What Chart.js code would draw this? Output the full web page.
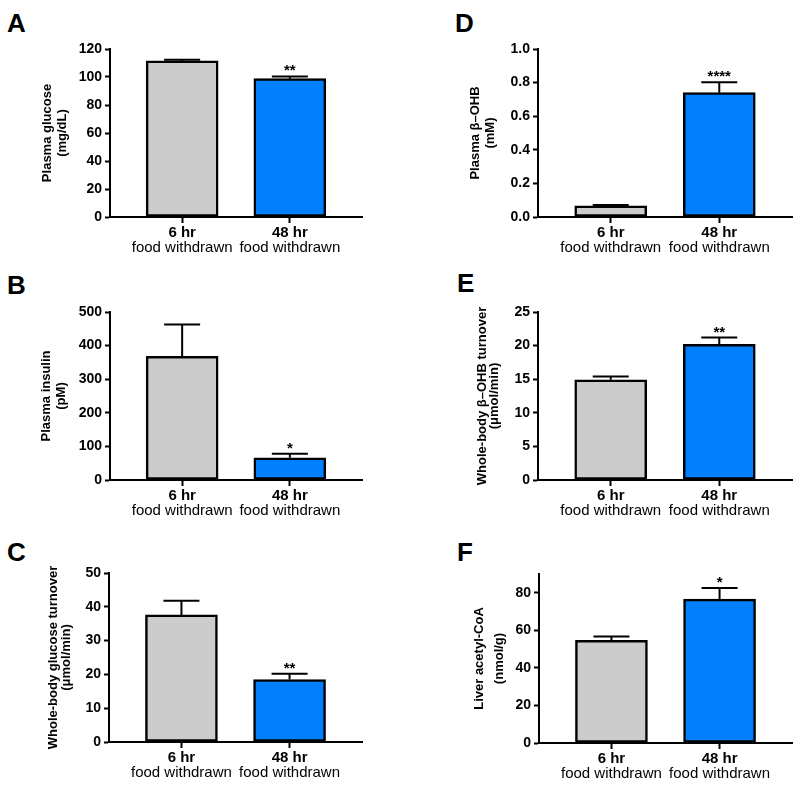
<!DOCTYPE html>
<html>
<head>
<meta charset="utf-8">
<script src="https://cdn.jsdelivr.net/npm/chart.js@4.4.0/dist/chart.umd.min.js"></script>
<style>
body { margin: 0; background: #fff; }
#wrap { position: relative; width: 800px; height: 787px; overflow: hidden; }
#wrap canvas { position: absolute; }
.tag { position: absolute; font: bold 26px "Liberation Sans", Arial, sans-serif; line-height: 1; color: #000; }
</style>
</head>
<body>
<div id="wrap">
  <div class="tag" style="left:7px;top:10px">A</div>
  <div class="tag" style="left:7px;top:272px">B</div>
  <div class="tag" style="left:7px;top:539px">C</div>
  <div class="tag" style="left:455px;top:10px">D</div>
  <div class="tag" style="left:457px;top:270px">E</div>
  <div class="tag" style="left:457px;top:539px">F</div>
</div>
<script>
var categories = ['6 hr', '48 hr'];
var subLabel = 'food withdrawn';
var colors = ['#cccccc', '#0080ff'];

// mean and SEM for each group (6 hr, 48 hr)
var glucose = [111.5, 98.8];
var glucoseErr = [0.8, 1.6];
var insulin = [368, 66];
var insulinErr = [95, 12];
var glucoseTurnover = [37.6, 18.5];
var glucoseTurnoverErr = [4.2, 1.7];
var ohb = [0.066, 0.74];
var ohbErr = [0.005, 0.062];
var ohbTurnover = [14.9, 20.2];
var ohbTurnoverErr = [0.5, 1.0];
var acetylCoA = [54.7, 76.6];
var acetylCoAErr = [2.0, 5.9];

var stars = [['', '**'], ['', '*'], ['', '**'], ['', '****'], ['', '**'], ['', '*']];

var font = '"Liberation Sans", Arial, Helvetica, sans-serif';

var panels = [
  { mean: glucose, err: glucoseErr, stars: stars[0], title: ['Plasma glucose', '(mg/dL)'],
    max: 120, step: 20, dec: 0, col: 0, l: 110, r: 362, t: 49, b: 217, tx: 47, lh: 15 },
  { mean: insulin, err: insulinErr, stars: stars[1], title: ['Plasma insulin', '(pM)'],
    max: 500, step: 100, dec: 0, col: 0, l: 110, r: 362, t: 312, b: 480, tx: 46, lh: 15 },
  { mean: glucoseTurnover, err: glucoseTurnoverErr, stars: stars[2], title: ['Whole-body glucose turnover', '(\u03bcmol/min)'],
    max: 50, step: 10, dec: 0, col: 0, l: 109, r: 362, t: 573, b: 742, tx: 53, lh: 13 },
  { mean: ohb, err: ohbErr, stars: stars[3], title: ['Plasma \u03b2\u2013OHB', '(mM)'],
    max: 1, step: 0.2, dec: 1, col: 400, l: 538, r: 792, t: 49, b: 217, tx: 475, lh: 15 },
  { mean: ohbTurnover, err: ohbTurnoverErr, stars: stars[4], title: ['Whole-body \u03b2\u2013OHB turnover', '(\u03bcmol/min)'],
    max: 25, step: 5, dec: 0, col: 400, l: 538, r: 792, t: 312, b: 480, tx: 482, lh: 12 },
  { mean: acetylCoA, err: acetylCoAErr, stars: stars[5], title: ['Liver acetyl-CoA', '(nmol/g)'],
    max: 90, step: 20, dec: 0, col: 400, l: 539, r: 792, t: 574, b: 743, tx: 479, lh: 20 }
];

var errorBars = {
  id: 'errorBars',
  afterDatasetsDraw: function(chart, args, opts) {
    var ctx = chart.ctx;
    var meta = chart.getDatasetMeta(0);
    var ys = chart.scales.y;
    var xs = chart.scales.x;
    ctx.save();
    ctx.strokeStyle = '#000';
    ctx.fillStyle = '#000';
    ctx.lineWidth = 2;
    meta.data.forEach(function(bar, i) {
      var top = ys.getPixelForValue(opts.mean[i] + opts.err[i]);
      ctx.beginPath();
      ctx.moveTo(bar.x, bar.y);
      ctx.lineTo(bar.x, top);
      ctx.moveTo(bar.x - 18, top);
      ctx.lineTo(bar.x + 18, top);
      ctx.stroke();
      if (opts.stars[i]) {
        ctx.font = 'bold 15px ' + font;
        ctx.textAlign = 'center';
        ctx.textBaseline = 'alphabetic';
        ctx.fillText(opts.stars[i], bar.x, top - 1);
      }
    });
    ctx.font = '15px ' + font;
    ctx.textAlign = 'center';
    ctx.textBaseline = 'middle';
    categories.forEach(function(c, i) {
      ctx.fillText(subLabel, xs.getPixelForValue(i), xs.top + 31);
    });
    ctx.restore();
  }
};

var wrap = document.getElementById('wrap');

panels.forEach(function(p) {
  var left = p.col, top = p.t - 20;
  var cv = document.createElement('canvas');
  cv.width = p.r + 4 - left;
  cv.height = p.b + 45 - top;
  cv.style.left = left + 'px';
  cv.style.top = top + 'px';
  wrap.appendChild(cv);

  var yWidth = p.l - left;
  new Chart(cv, {
    type: 'bar',
    data: {
      datasets: [{
        data: p.mean.map(function(v, i) { return { x: i, y: v }; }),
        backgroundColor: colors,
        borderColor: '#000',
        borderWidth: 2.5,
        borderSkipped: false,
        barThickness: 72
      }]
    },
    plugins: [errorBars],
    options: {
      responsive: false,
      animation: false,
      devicePixelRatio: 1,
      layout: { autoPadding: false, padding: { top: 20, right: 4, left: 0, bottom: 0 } },
      plugins: {
        legend: { display: false },
        tooltip: { enabled: false },
        errorBars: { mean: p.mean, err: p.err, stars: p.stars }
      },
      scales: {
        x: {
          type: 'linear',
          offset: false,
          min: -0.67,
          max: 1.67,
          afterBuildTicks: function(s) { s.ticks = categories.map(function(c, i) { return { value: i }; }); },
          afterFit: function(s) { s.height = 45; },
          grid: { offset: false, drawOnChartArea: false, drawTicks: true, tickLength: 6, tickColor: '#000', tickWidth: 2 },
          border: { display: true, color: '#000', width: 2 },
          ticks: {
            autoSkip: false, maxRotation: 0, padding: 1, color: '#000',
            font: { family: font, size: 15, weight: 'bold' },
            callback: function(v) { return categories[v]; }
          }
        },
        y: {
          min: 0,
          max: p.max,
          afterFit: function(s) { s.width = yWidth; },
          grid: { drawOnChartArea: false, drawTicks: true, tickLength: 5, tickColor: '#000', tickWidth: 2 },
          border: { display: true, color: '#000', width: 2 },
          ticks: {
            stepSize: p.step, includeBounds: false, padding: 3, color: '#000',
            font: { family: font, size: 14, weight: 'bold' },
            callback: function(v) { return v.toFixed(p.dec); }
          },
          title: {
            display: true,
            text: p.title,
            color: '#000',
            padding: { top: p.tx - left - p.lh / 2, bottom: 0 },
            font: { family: font, size: 13, weight: 'bold', lineHeight: p.lh + 'px' }
          }
        }
      }
    }
  });
});
</script>
</body>
</html>
